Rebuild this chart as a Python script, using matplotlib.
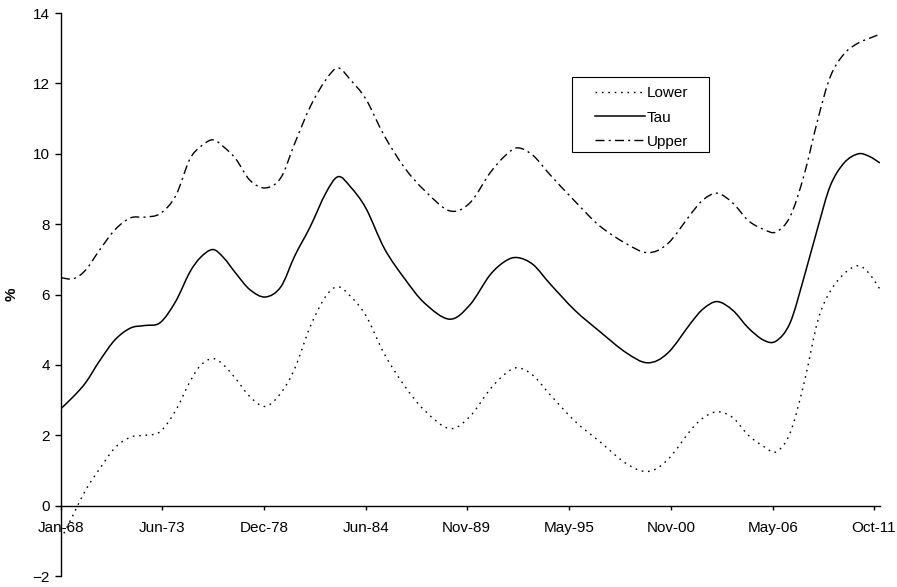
import numpy as np
import matplotlib
matplotlib.use("Agg")
import matplotlib.pyplot as plt
from matplotlib.path import Path
from matplotlib.patches import PathPatch, Rectangle
from matplotlib.lines import Line2D

plt.rcParams['font.family'] = ['Liberation Sans', 'DejaVu Sans']

# sample dates (year-month)
dates = ["1968-01", "1968-09", "1969-05", "1970-02", "1970-12", "1971-10", "1972-07",
         "1973-05", "1974-03", "1974-12", "1975-07", "1976-03", "1976-10", "1977-06",
         "1978-03", "1979-01", "1979-11", "1980-08", "1981-06", "1982-04", "1982-12",
         "1983-08", "1984-06", "1985-06", "1986-07", "1987-08", "1988-12", "1990-01",
         "1991-02", "1991-12", "1992-08", "1993-06", "1994-05", "1995-09", "1997-01",
         "1998-06", "1999-08", "2000-09", "2001-12", "2002-08", "2003-05", "2004-03",
         "2005-01", "2005-11", "2006-07", "2007-04", "2008-01", "2008-10", "2009-06",
         "2010-03", "2010-12", "2011-07", "2012-02"]

tau = [2.76, 3.1, 3.5, 4.12, 4.72, 5.05, 5.12, 5.2, 5.8, 6.62, 7.05, 7.28, 7.05, 6.6,
       6.14, 5.93, 6.22, 7.1, 7.93, 8.88, 9.35, 9.06, 8.45, 7.3, 6.45, 5.75, 5.3, 5.7,
       6.55, 6.95, 7.05, 6.85, 6.3, 5.55, 4.95, 4.35, 4.06, 4.34, 5.2, 5.6, 5.8, 5.55,
       5.05, 4.7, 4.68, 5.2, 6.5, 7.93, 9.1, 9.75, 10.0, 9.93, 9.74]

upper = [6.48, 6.45, 6.7, 7.27, 7.85, 8.18, 8.2, 8.3, 8.8, 9.83, 10.2, 10.4, 10.2, 9.85,
         9.25, 9.03, 9.32, 10.3, 11.34, 12.1, 12.44, 12.1, 11.55, 10.5, 9.6, 8.95, 8.38,
         8.6, 9.45, 9.95, 10.17, 9.95, 9.4, 8.65, 7.95, 7.45, 7.19, 7.45, 8.3, 8.7, 8.88,
         8.6, 8.1, 7.85, 7.78, 8.22, 9.4, 11.0, 12.2, 12.85, 13.15, 13.28, 13.4]

lower = [-0.95, -0.25, 0.45, 1.05, 1.65, 1.95, 2.0, 2.1, 2.7, 3.5, 3.98, 4.18, 4.0, 3.6,
         3.1, 2.82, 3.2, 3.9, 5.09, 5.95, 6.22, 5.95, 5.4, 4.3, 3.4, 2.7, 2.19, 2.53,
         3.3, 3.75, 3.92, 3.7, 3.15, 2.4, 1.82, 1.2, 0.97, 1.31, 2.16, 2.5, 2.67, 2.5,
         2.0, 1.68, 1.53, 2.07, 3.49, 5.28, 6.1, 6.6, 6.82, 6.6, 6.15]

tick_dates = ["1968-01", "1973-06", "1978-12", "1984-06", "1989-11",
              "1995-05", "2000-11", "2006-05", "2011-10"]
tick_labels = ["Jan-68", "Jun-73", "Dec-78", "Jun-84", "Nov-89",
               "May-95", "Nov-00", "May-06", "Oct-11"]

DOT = (0, (1.2, 3.4))
DASHDOT = (0, (6.5, 3, 1.5, 3))


def month_index(s):
    y, m = s.split("-")
    return (int(y) - 1968) * 12 + int(m) - 1


def smooth_path(x, y):
    # smoothed line like Excel: bezier segments through the data points
    p = np.column_stack([x, y]).astype(float)
    pp = np.vstack([p[0], p, p[-1]])
    verts = [p[0]]
    codes = [Path.MOVETO]
    for i in range(len(p) - 1):
        p0, p1, p2, p3 = pp[i], pp[i + 1], pp[i + 2], pp[i + 3]
        verts += [p1 + (p2 - p0) / 6.0, p2 - (p3 - p1) / 6.0, p2]
        codes += [Path.CURVE4] * 3
    return Path(verts, codes)


x = np.array([month_index(d) for d in dates])
xt = [month_index(d) for d in tick_dates]

fig = plt.figure(figsize=(8.97, 5.87), dpi=100)
ax = fig.add_axes([0.068, 0.0187, 0.913, 0.959])

series = [("Lower", lower, DOT, 1.0), ("Tau", tau, "-", 1.1), ("Upper", upper, DASHDOT, 1.0)]
handles = []
for name, vals, ls, lw in series:
    ax.add_patch(PathPatch(smooth_path(x, vals), facecolor="none", edgecolor="black",
                           lw=lw, linestyle=ls, capstyle="butt"))
    handles.append(Line2D([], [], color="black", lw=lw, linestyle=ls, label=name))

ax.set_xlim(0, 529)
ax.set_ylim(-2, 14)
ax.set_yticks(range(-2, 15, 2))
ax.set_xticks(xt)
ax.set_xticklabels(tick_labels)

ax.spines['top'].set_visible(False)
ax.spines['right'].set_visible(False)
ax.spines['bottom'].set_position(('data', 0))
ax.spines['left'].set_linewidth(1.0)
ax.spines['bottom'].set_linewidth(1.0)

ax.tick_params(axis='y', direction='out', length=4, width=1, labelsize=11, pad=4)
ax.tick_params(axis='x', direction='out', length=3, width=1, labelsize=11, pad=8)

ax.set_ylabel("%", fontsize=11, fontweight="bold")
ax.yaxis.set_label_coords(-0.052, 0.5)

# legend frame drawn separately so the padding matches
ax.add_patch(Rectangle((0.624, 0.753), 0.167, 0.133, transform=ax.transAxes,
                       facecolor="white", edgecolor="black", lw=0.8, zorder=4))
leg = ax.legend(handles=handles, loc="upper left", bbox_to_anchor=(0.652, 0.870),
                fontsize=11, frameon=False, handlelength=3.3, handletextpad=0.08,
                labelspacing=0.67, borderpad=0, borderaxespad=0)
leg.set_zorder(5)

fig.savefig("out.png", dpi=100)
